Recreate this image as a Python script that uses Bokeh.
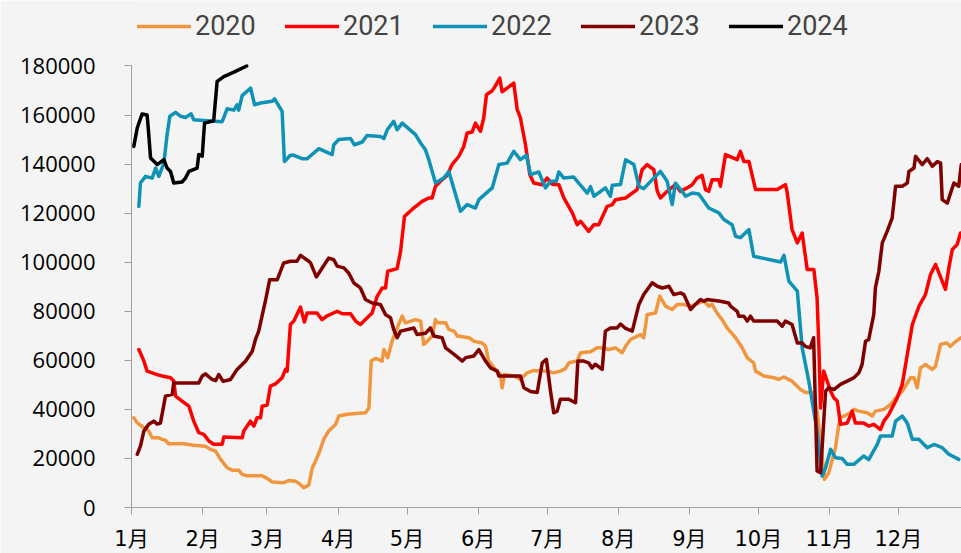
from bokeh.plotting import figure
from bokeh.models import Range1d, FixedTicker, Legend, LegendItem, NumeralTickFormatter
from bokeh.embed import file_html
from bokeh.resources import INLINE

# x = day of year (0 = 1月1日), y = value
month_ticks = [0, 31, 59, 90, 120, 151, 181, 212, 243, 273, 304, 334]
month_labels = ["1月", "2月", "3月", "4月", "5月", "6月", "7月", "8月", "9月", "10月", "11月", "12月"]
y_ticks = [0, 20000, 40000, 60000, 80000, 100000, 120000, 140000, 160000, 180000]

s2020 = [(1,36600),(2.5,34500),(5.4,32500),(7.5,31200),(9,28400),(11.9,28400),(13.4,27800),(14.8,27400),(16.2,26000),(22.8,26000),(27.1,25400),(32.2,25000),(34.4,23700),(36.6,23000),(38.8,19600),(41.7,16200),(43.9,15200),(46.7,15200),(48.2,13500),(50.4,12900),(56.9,12900),(59.1,11900),(61.3,10400),(66.3,10100),(68.5,11000),(71.4,10700),(72.9,9900),(75,8100),(77.2,9100),(78.7,16000),(81.6,22000),(83.8,28000),(85.9,31200),(88.9,33900),(90.3,37300),(93.9,38000),(101.9,38600),(103.4,40600),(104.4,59700),(106.3,60800),(109.2,59700),(109.9,64400),(111.6,61100),(113.5,67800),(115.7,73200),(117.9,78000),(119.3,75300),(123.7,76600),(125.9,76000),(127.3,66500),(128.8,67800),(131,69900),(132.4,76600),(133.1,75300),(136.8,75300),(138.2,72600),(140.5,71900),(141.9,69900),(147,69200),(149.1,67800),(152.7,67100),(154.2,65700),(155.6,59700),(158.5,56300),(160.7,54200),(161.4,48800),(162.5,54200),(166.5,53600),(169.4,52200),(172.3,54900),(175.2,55900),(181,55600),(183.9,54900),(186.8,55600),(189,56600),(190.5,59000),(194.1,59700),(195.6,63100),(199.9,63500),(202.8,65100),(204.2,65100),(207.9,64400),(210.8,65100),(213.7,63100),(215.2,65700),(217.3,68500),(221.7,70500),(223.1,69200),(224.6,78700),(228.2,79300),(230.1,86100),(232.6,82100),(235.5,80700),(237.7,82800),(239.8,82800),(243.5,82100),(249.3,84100),(251.4,82100),(252.9,82800),(255,79300),(257.2,76600),(259.4,73200),(263.1,69200),(266,65100),(268.2,61000),(271,59000),(271.8,55600),(275.4,53600),(279.8,52900),(281.9,52200),(284.1,53200),(287.7,51500),(291.4,48100),(293.5,46900),(296.5,46900),(298.6,39300),(300.1,27100),(301.8,11500),(303.7,14200),(306.6,24400),(308.1,33900),(308.8,36600),(313.1,38600),(314.6,40000),(316.8,39300),(320.4,38600),(322.6,37300),(324,39300),(327.7,40000),(330.6,42000),(333.5,45400),(335.7,47400),(339.3,52900),(340.8,52900),(342.2,48800),(343.6,56900),(345.8,58300),(348.7,56300),(350.2,57600),(352.4,66500),(355.1,67100),(356.7,65700),(358.2,67100),(361.1,69200)]

s2021 = [(3.2,64400),(5.4,59700),(6.8,55600),(11.2,54200),(13.4,53600),(17,52900),(18.4,51600),(19.2,45400),(22,43400),(25,41300),(27.1,35200),(29.3,30500),(31.5,29800),(33.7,27100),(35.8,25800),(39.5,25800),(40.2,28700),(48.2,28400),(48.9,31200),(51.8,35200),(53.3,33200),(54.7,36600),(56.2,36600),(56.9,41300),(59.1,41800),(60.5,49500),(62.7,50400),(65.6,52900),(67.1,56300),(67.8,55600),(69.2,74600),(70.7,76000),(73.6,81700),(75.3,75600),(76.5,79300),(80.8,79300),(83,76600),(85,78000),(89.6,80000),(91.8,79000),(95.4,79000),(97.6,76000),(99.7,74600),(101.9,76600),(104.8,79300),(107,86100),(109.2,89500),(110.6,89500),(111.6,96300),(115.7,97400),(117.2,104500),(118.9,118700),(122.2,121500),(126.6,124800),(129.5,126200),(130.9,126200),(132.4,131000),(134.6,133000),(137.5,135400),(139.6,139800),(142.6,143200),(144.7,147200),(146.2,152700),(148.4,153100),(149.8,156700),(152,153400),(153.4,158800),(154.6,168300),(157.1,169900),(158.5,171900),(160.4,175100),(161.4,169500),(163.6,171000),(166.5,173000),(168,162200),(169.4,158800),(171.6,147900),(173.5,135700),(175.2,132300),(178.9,131600),(181,134300),(183.2,131800),(186.1,131600),(188.3,126200),(192,120100),(194.1,115300),(195.6,116700),(199.1,112600),(201.4,115300),(203.5,115300),(207.2,122800),(209.4,123500),(210.8,125500),(215.2,126200),(217.3,127600),(220.2,129600),(222.4,137700),(224.6,139800),(227.5,137700),(229,128900),(230.4,126200),(233.3,128900),(236.9,131600),(239.1,128900),(242,130300),(244.2,131600),(246.3,134300),(248.5,135400),(250,129600),(251.4,128900),(252.9,133600),(255.8,133600),(256.5,131000),(258.7,143900),(263.8,141800),(265.2,145200),(266.7,141100),(268.9,141100),(271.8,129600),(281.2,129600),(284.8,131600),(285.5,128900),(287.7,113300),(290,107900),(292.1,111900),(294.3,97000),(297.2,97000),(298.6,85400),(299.4,65100),(300.1,40600),(301.5,55600),(304.5,47400),(305.9,44700),(307.4,43400),(308.8,33900),(311.7,34400),(313.9,39300),(315.3,34400),(318.9,34400),(321.1,33200),(323.3,33900),(326.2,31800),(327.7,35200),(329.9,38000),(333.5,44700),(335.7,50200),(337.9,62400),(340.1,74600),(343,82100),(345.8,86800),(348,95000),(350.2,99100),(354.5,88900),(356,97700),(357.5,105200),(359.6,107200),(361.1,111900)]

s2022 = [(3.2,122800),(3.9,132300),(6.1,135000),(9,134300),(10.5,138400),(11.9,135000),(14.1,140400),(15.5,152000),(16.7,159500),(19.2,161100),(21.4,159500),(23.5,159000),(26,160500),(27.1,158100),(33,157700),(39.5,157300),(41.7,162600),(44.6,162000),(46,164200),(46.7,162000),(48.2,167900),(51.9,171000),(53.6,164200),(56.2,164900),(61.3,165600),(62.3,166600),(65.6,161500),(66.6,141100),(69.2,143600),(70.7,143600),(74.3,142200),(76.5,142200),(81.6,146300),(87.4,143900),(88.1,147900),(90.3,150000),(95.4,150400),(97.1,147900),(100.5,149000),(102.6,151700),(108.4,151300),(109.9,150400),(111.4,154000),(114.2,157400),(115.7,154000),(117.9,156700),(123.7,152000),(125.9,148600),(128,145900),(129.5,141800),(132.4,132300),(136,134300),(138.2,137000),(143.3,120800),(146.2,123500),(149.8,122100),(151.3,125500),(157.1,130300),(160,139800),(163.6,140400),(166.5,145200),(169.4,141800),(172,143600),(173.8,135700),(177.4,136800),(180.3,130300),(182.5,133000),(185,133000),(186.1,136800),(188.3,134300),(192.6,134700),(198.5,128200),(199.9,130800),(201.4,126900),(206.4,130300),(208.6,126900),(209.4,131400),(213,131700),(215.2,141800),(218.8,139800),(221,130900),(223.1,130000),(227.5,134300),(230.4,137000),(233.3,133000),(235.5,123500),(236.9,132200),(239.8,128900),(241.3,126900),(244.2,128200),(247.1,127800),(251.4,122100),(255.8,120100),(258,117400),(261.6,115300),(263.1,110600),(265.2,110000),(268.9,113300),(271,102400),(282.7,100100),(284.2,102800),(286.3,92300),(290,88200),(292.1,65100),(295,51500),(298.6,31200),(300.8,12800),(302.3,16200),(304.5,23700),(306.6,20300),(309.5,20000),(311.7,17600),(314.6,17600),(318.9,21000),(321.1,19500),(324.8,25700),(326.2,29100),(331.3,29100),(332.8,35200),(335.7,37300),(337.9,34400),(340.1,27800),(342.9,27800),(346.6,24400),(349.5,25700),(353.1,24400),(356,21700),(360.3,19600)]

s2023 = [(2.5,21700),(3.9,25000),(5.4,31200),(7.5,33900),(9.7,35200),(11.2,34000),(12.6,34400),(14.8,45400),(17.7,46100),(18.4,50800),(29.3,50800),(30.8,53600),(32.2,54500),(35.1,52200),(36.6,51700),(38,54200),(39.9,51400),(43.1,52200),(46,56300),(49.7,59700),(52.6,63700),(54,68500),(55.4,71900),(58.4,84500),(60.2,92900),(63.5,92900),(66.3,99700),(69.2,100400),(72.1,100400),(73.6,102800),(77.2,100400),(78,99700),(80.5,94000),(85.9,101700),(88.1,101000),(89.6,98400),(92.5,97700),(94.6,95600),(96.8,91600),(99.7,89500),(101.9,84800),(104.8,83400),(108.4,82800),(110.6,78700),(112.8,77400),(114.2,72600),(115.7,69200),(117.2,71900),(123,73200),(124.4,70500),(128,71000),(130.2,73200),(131.7,69900),(135.3,69200),(136.8,65100),(140.5,62400),(144.1,59700),(145.6,61100),(149.1,61800),(151.3,64400),(154.2,59700),(156.4,56900),(159.3,55600),(160,53600),(169.4,53600),(170.9,48800),(173.8,47300),(176.7,46900),(178.9,59000),(180.7,60400),(182.5,47400),(183.9,38600),(185.4,39300),(186.8,44100),(190.5,44100),(193.4,42700),(194.4,59700),(197,59700),(199.1,59000),(200.6,56900),(202,58400),(205,56300),(206.4,71900),(208.6,73200),(211.5,73200),(213,74800),(215.2,73000),(218.1,71900),(221,82800),(223.1,86800),(226.8,91600),(229,90200),(231.2,89500),(234.1,90200),(236.2,86800),(239.1,87500),(240.6,86800),(243.5,80700),(245.6,82800),(247.8,84800),(249.3,84100),(250.7,84800),(256.5,84100),(260.1,83400),(260.9,82100),(263.8,80000),(264.5,78000),(266.7,78000),(268.2,76000),(269.6,78000),(271,76000),(281.2,76000),(283.4,73900),(284.8,76000),(287.7,74600),(290,67100),(292.1,67100),(293.5,65700),(295.6,65100),(297.1,69200),(298.6,14900),(300.1,14200),(300.8,24400),(302.3,47400),(303.7,48800),(305.9,48100),(308.8,50200),(311.7,51500),(314.6,52900),(316.8,54900),(318.2,58300),(319.7,67800),(321.1,68500),(323.3,78700),(324,89500),(325.5,96300),(327,107900),(329.1,112600),(331.3,118000),(332.8,131000),(335.7,131000),(337.9,132300),(338.6,137000),(340.8,138400),(341.5,143200),(344.4,139800),(346.6,142200),(348.8,139100),(351,141000),(352.4,140400),(353.1,125500),(355.3,124100),(358.2,132300),(360.3,131000),(361.4,139800)]

s2024 = [(1,147200),(2.5,154700),(4.6,160400),(6.8,160000),(7.3,154700),(8.3,142500),(11.2,139800),(14.1,141800),(15.5,138400),(17,137000),(18.4,132300),(22,132700),(23.5,134300),(25,137000),(28.6,138400),(29.3,143900),(30.8,143200),(31.8,156700),(35.8,157700),(37.3,173700),(40.2,175700),(44.6,177500),(50.2,180000)]

series = [("2020", s2020, "#F0963F"), ("2021", s2021, "#FF0000"),
          ("2022", s2022, "#0E92B6"), ("2023", s2023, "#800000"),
          ("2024", s2024, "#000000")]

BG = "#F4F4F4"
AX = "#A0A0A0"

# frame spans the full height (legend lives inside it); axis line is bounded to 0..180000
p = figure(width=961, height=553, output_backend="svg", toolbar_location=None,
           x_range=Range1d(0, 361.5), y_range=Range1d(0, 206700),
           min_border_left=131, min_border_right=0, min_border_top=0, min_border_bottom=46,
           background_fill_color=BG, border_fill_color=BG, outline_line_color=None)
p.xgrid.visible = False
p.ygrid.visible = False

items = []
for name, data, color in series:
    xs = [d for d, v in data]
    ys = [v for d, v in data]
    r = p.line(xs, ys, line_color=color, line_width=3.5, line_join="round", line_cap="round")
    items.append(LegendItem(label=name, renderers=[r]))

for ax in (p.xaxis[0], p.yaxis[0]):
    ax.axis_line_color = AX
    ax.major_tick_line_color = AX
    ax.minor_tick_line_color = None
    ax.major_tick_in = 0
    ax.major_tick_out = 7
    ax.major_label_text_color = "#000000"

p.xaxis.ticker = FixedTicker(ticks=month_ticks)
p.xaxis.major_label_overrides = {t: l for t, l in zip(month_ticks, month_labels)}
p.xaxis.major_label_text_font = "DejaVu Sans, Noto Sans CJK SC"
p.xaxis.major_label_text_font_size = "21px"
p.xaxis.major_label_standoff = 12

p.yaxis.ticker = FixedTicker(ticks=y_ticks)
p.yaxis.bounds = (0, 180000)
p.yaxis.formatter = NumeralTickFormatter(format="0")
p.yaxis.major_label_text_font = "Open Sans"
p.yaxis.major_label_text_font_size = "22px"
p.yaxis.major_label_standoff = 29

legend = Legend(items=items, orientation="horizontal", location=(6, 465),
                padding=0, margin=0, spacing=28, glyph_width=54, glyph_height=20,
                label_standoff=4, label_width=62, label_text_font="Roboto",
                label_text_font_size="27px", border_line_alpha=0, background_fill_alpha=0)
p.add_layout(legend)

open("out.html", "w").write(file_html(p, INLINE))
